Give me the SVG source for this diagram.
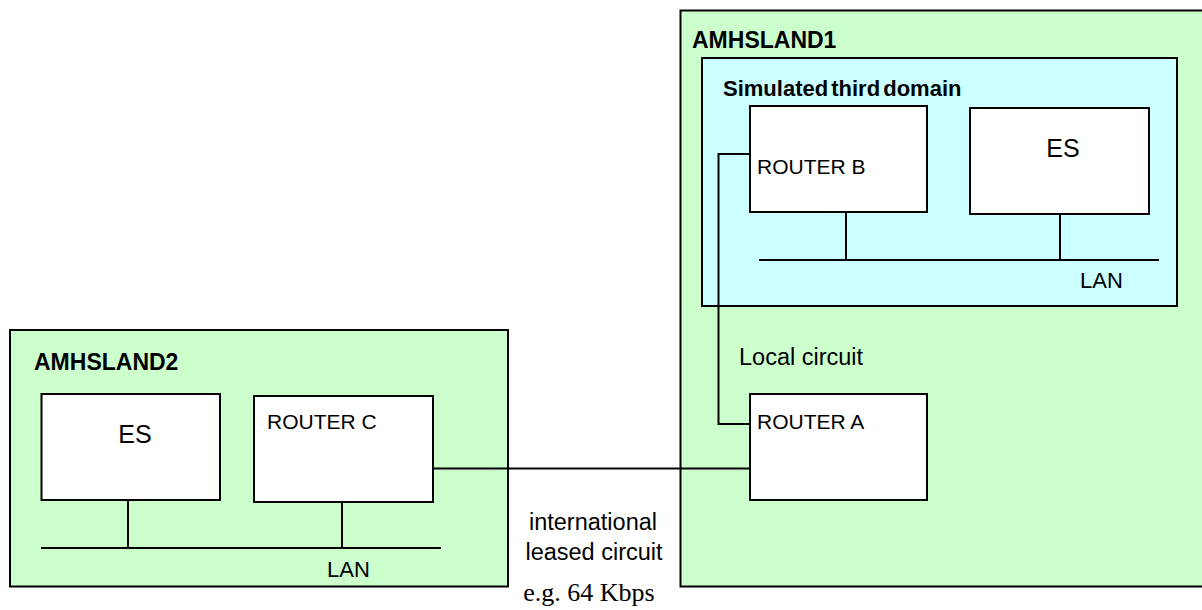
<svg xmlns="http://www.w3.org/2000/svg" width="1202" height="610" viewBox="0 0 1202 610">
<style>
.dom1{fill:#CCFFCC;stroke:#000;stroke-width:2}
.dom3{fill:#CCFFFF;stroke:#000;stroke-width:2}
.box{fill:#fff;stroke:#000;stroke-width:2}
.ln{fill:none;stroke:#000;stroke-width:2}
.t{font-family:"Liberation Sans",Arial,sans-serif;fill:#000}
.b{font-weight:bold}
.s{font-family:"Liberation Serif","Times New Roman",serif;fill:#000}
</style>
<rect width="1202" height="610" fill="#fff"/>
<g id="amhsland1">
<rect class="dom1" x="680.5" y="10.5" width="540" height="576"/>
<text class="t b" x="692" y="48" font-size="23">AMHSLAND1</text>
</g>
<g id="third-domain">
<rect class="dom3" x="702" y="58" width="475" height="248"/>
<text class="t b" x="723" y="96" font-size="22" word-spacing="-3">Simulated third domain</text>
</g>
<g id="amhsland2">
<rect class="dom1" x="10" y="330" width="498" height="256.5"/>
<text class="t b" x="34" y="370" font-size="23">AMHSLAND2</text>
</g>
<g id="router-b">
<rect class="box" x="750" y="106" width="177" height="106"/>
<text class="t" x="757" y="174" font-size="21">ROUTER B</text>
</g>
<g id="es1">
<rect class="box" x="970" y="108" width="179" height="106"/>
<text class="t" x="1063" y="157" font-size="25" text-anchor="middle">ES</text>
</g>
<g id="router-a">
<rect class="box" x="750" y="394" width="177" height="106"/>
<text class="t" x="757" y="429" font-size="21">ROUTER A</text>
</g>
<g id="es2">
<rect class="box" x="41.5" y="394" width="178.5" height="106"/>
<text class="t" x="135" y="443" font-size="25" text-anchor="middle">ES</text>
</g>
<g id="router-c">
<rect class="box" x="254" y="396" width="179" height="106"/>
<text class="t" x="267" y="429" font-size="21">ROUTER C</text>
</g>
<g id="connectors">
<line class="ln" x1="759" y1="260" x2="1159" y2="260"/>
<line class="ln" x1="846" y1="212" x2="846" y2="260"/>
<line class="ln" x1="1060" y1="214" x2="1060" y2="260"/>
<polyline class="ln" points="750,154 718.5,154 718.5,424 750,424"/>
<line class="ln" x1="41" y1="548" x2="441" y2="548"/>
<line class="ln" x1="128" y1="500" x2="128" y2="548"/>
<line class="ln" x1="342" y1="502" x2="342" y2="548"/>
<line class="ln" x1="433" y1="468.5" x2="750" y2="468.5"/>
</g>
<g id="labels">
<text class="t" x="1080" y="288" font-size="22">LAN</text>
<text class="t" x="327" y="577" font-size="22">LAN</text>
<text class="t" x="739" y="365" font-size="23.5">Local circuit</text>
<text class="t" x="593" y="530" font-size="23.5" text-anchor="middle">international</text>
<text class="t" x="594" y="560" font-size="23.5" text-anchor="middle">leased circuit</text>
<text class="s" x="589" y="601" font-size="26" text-anchor="middle">e.g. 64 Kbps</text>
</g>
</svg>
